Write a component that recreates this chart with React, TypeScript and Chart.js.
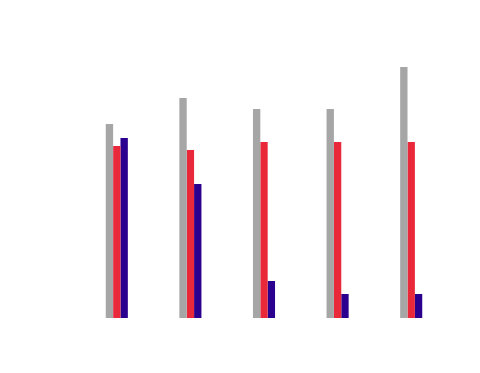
import React, { useEffect, useRef } from "react";
import { Chart, registerables } from "chart.js";

Chart.register(...registerables);

const categories = ["A", "B", "C", "D", "E"];
const greyValues = [194, 220, 209, 209, 251];
const redValues = [172, 168, 176, 176, 176];
const blueValues = [180, 134, 37, 24, 24];

export default function App() {
  const ref = useRef<HTMLCanvasElement | null>(null);
  useEffect(() => {
    if (!ref.current) return;
    const chart = new Chart(ref.current, {
      type: "bar",
      data: {
        labels: categories,
        datasets: [
          { data: greyValues, backgroundColor: "#a6a6a6" },
          { data: redValues, backgroundColor: "#e9283a" },
          { data: blueValues, backgroundColor: "#2c008e" },
        ],
      },
      options: {
        animation: false,
        responsive: true,
        maintainAspectRatio: false,
        layout: { padding: { left: 72, right: 24, top: 10, bottom: 47 } },
        datasets: { bar: { barPercentage: 1, categoryPercentage: 0.3 } },
        plugins: { legend: { display: false }, tooltip: { enabled: false } },
        scales: {
          x: { display: false },
          y: { display: false, min: 0, max: 300 },
        },
      },
    });
    return () => chart.destroy();
  }, []);
  return (
    <div style={{ width: 464, height: 357 }}>
      <canvas ref={ref} />
    </div>
  );
}
